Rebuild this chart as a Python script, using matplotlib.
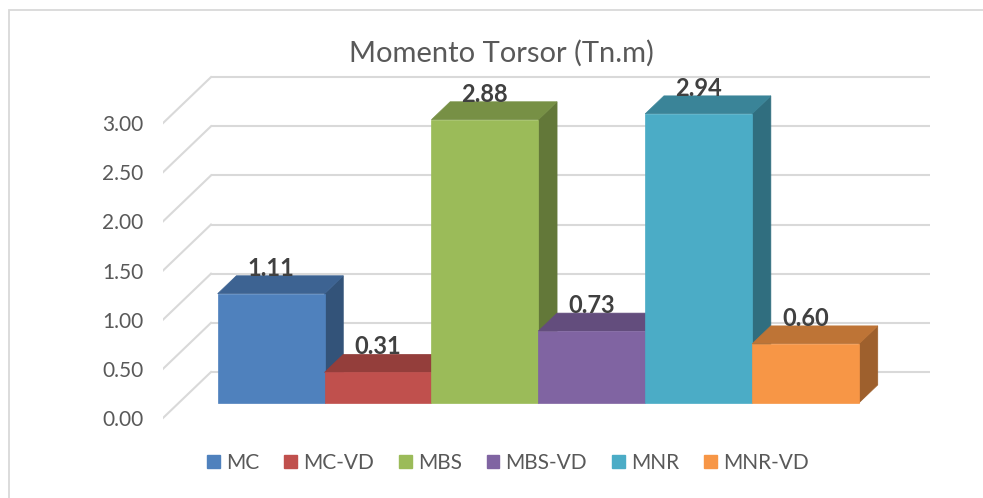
import matplotlib
matplotlib.use("Agg")
import matplotlib.pyplot as plt
from matplotlib.patches import Polygon, Rectangle, Patch
import numpy as np

plt.rcParams['font.family'] = ['Lato', 'DejaVu Sans']

# series names, values and base colours (Excel 2010 palette)
names = ['MC', 'MC-VD', 'MBS', 'MBS-VD', 'MNR', 'MNR-VD']
values = [1.11, 0.31, 2.88, 0.73, 2.94, 0.60]
colors = ['#4F81BD', '#C0504D', '#9BBB59', '#8064A2', '#4BACC6', '#F79646']
yticks = [0.0, 0.5, 1.0, 1.5, 2.0, 2.5, 3.0]

# oblique "3D" geometry: depth shifts points right (DX) and up (DY)
DX = 48 / 719
DY = 0.468
d0, d1 = 0.33, 0.72      # front/back depth of the bars
gap = 0.054
w = (1 - 2 * gap) / len(values)


def shade(c, k):
    r, g, b = matplotlib.colors.to_rgb(c)
    return (r * k, g * k, b * k)


def pt(x, y, d):
    return (x + d * DX, y + d * DY)


fig = plt.figure(figsize=(9.83, 4.98), dpi=100)
W, H = 983, 498
left, right = 163, 930
ylo, yhi = -0.15, 3.55
ppu = 98.3
bot_px = 418 + (0 - ylo) * ppu
top_px = 418 - yhi * ppu
ax = fig.add_axes([left / W, 1 - bot_px / H, (right - left) / W, (bot_px - top_px) / H])
ax.set_xlim(0, 1 + DX)
ax.set_ylim(ylo, yhi)

# chart border (left and top edges fall inside the image)
fig.patches.append(Rectangle((9 / W, -0.01), 1.0, 1 - 10 / H + 0.01, transform=fig.transFigure,
                             fill=False, edgecolor='#d9d9d9', lw=1.3))

# gridlines on back wall and side wall
grid = '#d9d9d9'
for v in yticks:
    ax.plot([DX, 1 + DX], [v + DY, v + DY], color=grid, lw=1.5, zorder=1, solid_capstyle='butt')
    ax.plot([0, DX], [v, v + DY], color=grid, lw=1.5, zorder=1)

# bars, drawn left to right so each hides the side of the previous one
for i, (v, c) in enumerate(zip(values, colors)):
    x0 = gap + i * w
    x1 = x0 + w
    side = [pt(x1, 0, d0), pt(x1, v, d0), pt(x1, v, d1), pt(x1, 0, d1)]
    top = [pt(x0, v, d0), pt(x1, v, d0), pt(x1, v, d1), pt(x0, v, d1)]
    front = [pt(x0, 0, d0), pt(x1, 0, d0), pt(x1, v, d0), pt(x0, v, d0)]
    ax.add_patch(Polygon(side, closed=True, fc=shade(c, 0.64), ec=shade(c, 0.64), lw=0.5, zorder=3))
    ax.add_patch(Polygon(top, closed=True, fc=shade(c, 0.77), ec=shade(c, 0.77), lw=0.5, zorder=3))
    ax.add_patch(Polygon(front, closed=True, fc=c, ec=c, lw=0.5, zorder=3))
    cx = (x0 + x1) / 2 + d0 * DX
    ax.text(cx, v + d1 * DY, f'{v:.2f}', ha='center', va='baseline', fontsize=17,
            fontweight='bold', color='#404040', zorder=5)

ax.set_xticks([])
ax.set_yticks(yticks)
ax.set_yticklabels([f'{t:.2f}' for t in yticks], fontsize=15, color='#595959')
ax.tick_params(axis='y', length=0, pad=14)
for s in ax.spines.values():
    s.set_visible(False)
ax.patch.set_visible(False)

fig.text(501 / W, 1 - 62 / H, 'Momento Torsor (Tn.m)', ha='center', va='baseline',
         fontsize=21, color='#595959')

handles = [Patch(facecolor=c, edgecolor=c) for c in colors]
fig.legend(handles, names, loc='center', bbox_to_anchor=(508 / W, 1 - 463 / H), ncol=6,
           frameon=False, fontsize=15, labelcolor='#595959', handlelength=0.6,
           handleheight=0.6, handletextpad=0.3, columnspacing=1.2)

fig.savefig('out.png', dpi=100)
